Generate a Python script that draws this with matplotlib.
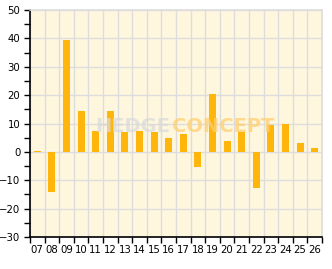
import matplotlib
matplotlib.use("Agg")
import matplotlib.pyplot as plt
import numpy as np

labels = ["07", "08", "09", "10", "11", "12", "13", "14", "15", "16",
          "17", "18", "19", "20", "21", "22", "23", "24", "25", "26"]
values = [0.3, -14.0, 39.5, 14.5, 7.5, 14.5, 7.0, 7.5, 7.0, 4.8,
          6.4, -5.2, 20.4, 4.0, 7.0, -12.6, 9.6, 9.9, 3.3, 1.5]

fig = plt.figure(figsize=(3.32, 2.69), dpi=100)
fig.patch.set_facecolor("white")
ax = fig.add_axes([30 / 332, 32 / 269, 292 / 332, 227 / 269])
ax.set_facecolor("#FFF6DE")

x = np.arange(len(labels))
ax.bar(x, values, width=0.48, color="#FFB60C", zorder=3)

ax.set_xlim(-0.5, len(labels) - 0.5)
ax.set_ylim(-30, 50)

# vertical grid at category boundaries
ax.set_xticks(np.arange(len(labels) + 1) - 0.5)
ax.set_xticklabels([])
ax.set_xticks(x, minor=True)
ax.set_xticklabels(labels, minor=True)
ax.tick_params(axis="x", which="minor", length=0, pad=6, labelsize=7.3)
ax.tick_params(axis="x", which="major", length=4, width=1, direction="out")

ax.set_yticks(np.arange(-30, 51, 10))
ax.set_yticks(np.arange(-25, 50, 10), minor=True)
ax.tick_params(axis="y", which="both", length=4, width=1, labelsize=7.3, pad=3)

ax.grid(True, which="major", color="#DDDDDD", linewidth=1, zorder=0)
for s in ["top", "right"]:
    ax.spines[s].set_color("#DDDDDD")
    ax.spines[s].set_linewidth(1.2)
for s in ["left", "bottom"]:
    ax.spines[s].set_color("black")
    ax.spines[s].set_linewidth(1.2)

# watermark
ax.text(0.48, 0.485, "HEDGE", transform=ax.transAxes, ha="right", va="center",
        fontsize=14, fontweight="bold", color="#DADADA", alpha=0.75, zorder=4)
ax.text(0.485, 0.485, "CONCEPT", transform=ax.transAxes, ha="left", va="center",
        fontsize=14, fontweight="bold", color="#FFCF70", alpha=0.75, zorder=4)

fig.savefig("out.png", dpi=100)
